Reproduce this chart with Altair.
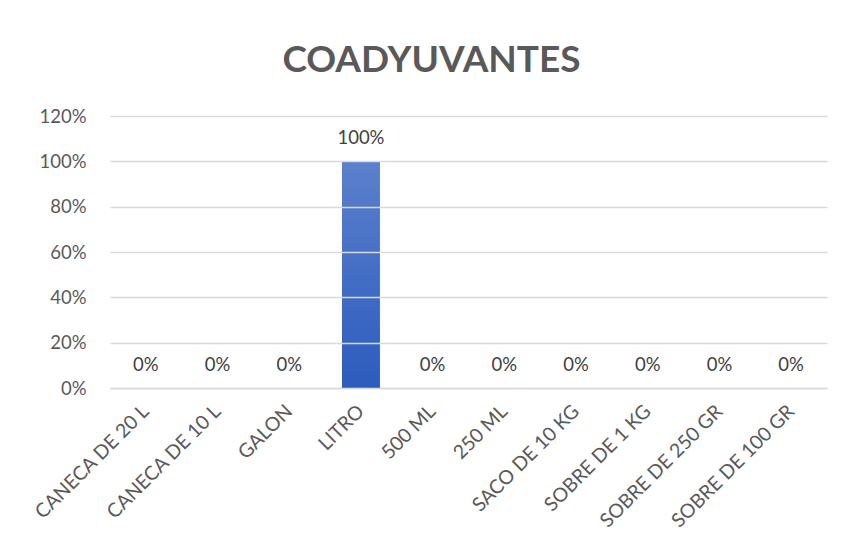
import altair as alt
import pandas as pd

categories = ["CANECA DE 20 L", "CANECA DE 10 L", "GALON", "LITRO", "500 ML",
              "250 ML", "SACO DE 10 KG", "SOBRE DE 1 KG", "SOBRE DE 250 GR", "SOBRE DE 100 GR"]
values = [0, 0, 0, 1.0, 0, 0, 0, 0, 0, 0]
title_text = "COADYUVANTES"

df = pd.DataFrame({"cat": categories, "val": values})

FONT = "Lato"
x = alt.X("cat:N", sort=categories, title=None,
          scale=alt.Scale(paddingInner=0.47, paddingOuter=0.235),
          axis=alt.Axis(labelAngle=315, labelAlign="right", labelBaseline="middle",
                        labelPadding=20, ticks=False, domain=True, domainColor="#D9D9D9",
                        domainWidth=1.5, labelFont=FONT, labelFontSize=19.5,
                        labelColor="#595959", grid=False))
y = alt.Y("val:Q", title=None,
          scale=alt.Scale(domain=[0, 1.2], nice=False),
          axis=alt.Axis(format=".0%", values=[0, 0.2, 0.4, 0.6, 0.8, 1.0, 1.2],
                        ticks=False, domain=False, grid=True, gridColor="#D9D9D9",
                        gridWidth=1.5, labelFont=FONT, labelFontSize=18.5,
                        labelColor="#595959", labelPadding=24, zindex=1))

bars = alt.Chart(df).mark_bar(
    color=alt.Gradient(gradient="linear",
                       stops=[alt.GradientStop(color="#5B80CC", offset=0),
                              alt.GradientStop(color="#2C5CBE", offset=1)],
                       x1=0, x2=0, y1=0, y2=1)
).encode(x=x, y=y)

labels = alt.Chart(df).mark_text(
    font=FONT, fontSize=18.5, color="#404040", baseline="alphabetic", dy=-17
).encode(x=alt.X("cat:N", sort=categories), y="val:Q", text=alt.Text("val:Q", format=".0%"))

chart = alt.layer(bars, labels).properties(
    width=717, height=272,
    autosize=alt.AutoSizeParams(type="none"),
    padding={"left": 102, "top": 108, "right": 6, "bottom": 160},
    title=alt.TitleParams(title_text, font=FONT, fontSize=37, fontWeight="bold",
                          color="#595959", anchor="middle", dx=-37, offset=27),
    background="white",
).configure_view(stroke=None)

chart.save("out.html", embed_options={"renderer": "svg", "actions": False})
